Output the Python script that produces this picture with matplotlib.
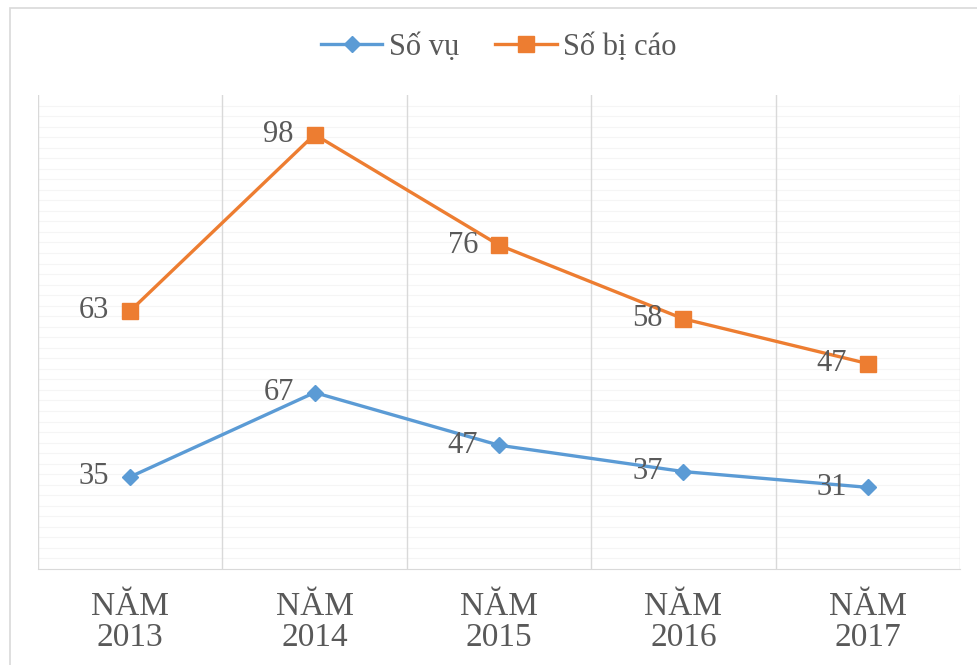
import matplotlib.pyplot as plt
import matplotlib.patches as mpatches

years = ['NĂM\n2013', 'NĂM\n2014', 'NĂM\n2015', 'NĂM\n2016', 'NĂM\n2017']
so_vu = [35, 67, 47, 37, 31]
so_bi_cao = [63, 98, 76, 58, 47]

# stacked line chart: orange series sits on top of blue
stacked = [a + b for a, b in zip(so_vu, so_bi_cao)]

color_vu = '#5B9BD5'
color_bc = '#ED7D31'
text_gray = '#595959'
serif = ['Liberation Serif', 'DejaVu Serif']

fig = plt.figure(figsize=(9.78, 6.65), dpi=100)
ax = fig.add_axes([38/978, 1 - 569/665, 922/978, 474/665])

# outer chart frame
fig.patches.append(mpatches.Rectangle((10/978, -0.1), 1.2, 1 - 8/665 + 0.1,
                                      transform=fig.transFigure, fill=False,
                                      edgecolor='#d9d9d9', linewidth=1.2))

x = range(len(years))
ax.plot(x, so_vu, color=color_vu, linewidth=2.4, marker='D', markersize=8,
        label='Số vụ', zorder=3)
ax.plot(x, stacked, color=color_bc, linewidth=2.4, marker='s', markersize=11,
        label='Số bị cáo', zorder=3)

for i in x:
    ax.annotate(str(so_vu[i]), (i, so_vu[i]), xytext=(-15, 0),
                textcoords='offset points', ha='right', va='center',
                fontsize=22, color=text_gray, family=serif)
    ax.annotate(str(so_bi_cao[i]), (i, stacked[i]), xytext=(-15, 0),
                textcoords='offset points', ha='right', va='center',
                fontsize=22, color=text_gray, family=serif)

ax.set_xlim(-0.5, len(years) - 0.5)
ax.set_ylim(0, 180)

# faint horizontal lines and category separators
for yv in range(4, 180, 4):
    ax.axhline(yv, color='#f5f5f5', linewidth=0.8, zorder=0)
for xv in [i - 0.5 for i in range(len(years) + 1)]:
    ax.axvline(xv, color='#d9d9d9', linewidth=1.0, zorder=1)

ax.set_xticks(list(x))
ax.set_xticklabels(years, fontsize=24, color=text_gray, family=serif,
                   linespacing=1.05)
ax.tick_params(axis='x', length=0, pad=16)
ax.set_yticks([])
for side in ['top', 'right', 'left']:
    ax.spines[side].set_visible(False)
ax.spines['bottom'].set_color('#d9d9d9')

leg = fig.legend(loc='center', bbox_to_anchor=(0.51, 1 - 47/665), ncol=2,
                 frameon=False, prop={'family': serif, 'size': 22},
                 handlelength=2.0, columnspacing=1.2, handletextpad=0.2)
for t in leg.get_texts():
    t.set_color(text_gray)

fig.savefig('out.png', dpi=100)
